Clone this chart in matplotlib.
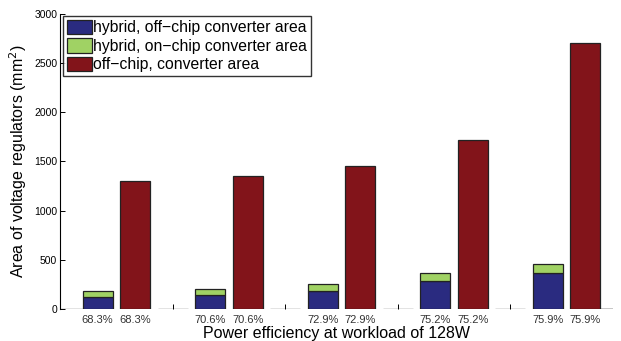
import matplotlib
matplotlib.use("Agg")
from matplotlib import pyplot as plt
import numpy as np

efficiency = ['68.3%', '70.6%', '72.9%', '75.2%', '75.9%']
hybrid_offchip = [128, 150, 190, 290, 370]
hybrid_onchip = [55, 55, 70, 80, 85]
offchip_area = [1300, 1350, 1450, 1720, 2700]

BLUE = '#2a2b80'
GREEN = '#a0d264'
RED = '#82141a'
EDGE = '#222222'
BAR_W = 0.8

plt.rcParams['font.family'] = ['Liberation Sans', 'DejaVu Sans']

fig = plt.figure(figsize=(6.21, 3.41), dpi=100)
ax = fig.add_axes([0.0966, 0.093, 0.890, 0.867])

n = len(efficiency)
hyb_x = np.arange(n) * 3 + 1
off_x = hyb_x + 1
gap_x = np.arange(n + 1) * 3

ax.bar(hyb_x, hybrid_offchip, BAR_W, color=BLUE, edgecolor=EDGE, lw=0.9,
       label='hybrid, off\u2212chip converter area')
ax.bar(hyb_x, hybrid_onchip, BAR_W, bottom=hybrid_offchip, color=GREEN,
       edgecolor=EDGE, lw=0.9, label='hybrid, on\u2212chip converter area')
ax.bar(off_x, offchip_area, BAR_W, color=RED, edgecolor=EDGE, lw=0.9,
       label='off\u2212chip, converter area')
# empty slots between groups (zero height, only the outline shows)
widths = [1.2] + [BAR_W] * (n - 1) + [1.2]
ax.bar(gap_x, np.zeros(n + 1), widths, color='none', edgecolor=EDGE, lw=0.9)

ax.set_xlim(0, 14.73)
ax.set_ylim(0, 3000)
ax.set_yticks(np.arange(0, 3001, 500))

ax.set_xticks(np.concatenate([hyb_x, off_x]))
ax.set_xticklabels(efficiency + efficiency)
ax.set_xticks(gap_x[1:-1], minor=True)
ax.tick_params(axis='x', which='major', length=0, pad=4, labelsize=8,
               colors='#333333')
ax.tick_params(axis='x', which='minor', direction='in', length=3.5, width=0.7)
ax.tick_params(axis='y', direction='in', length=3.5, width=0.7, labelsize=7.5,
               pad=2)

for s in ['top', 'right', 'bottom']:
    ax.spines[s].set_visible(False)
ax.spines['left'].set_linewidth(0.8)

ax.set_xlabel('Power efficiency at workload of 128W', fontsize=11.5, labelpad=1)
ax.set_ylabel('Area of voltage regulators (mm$^2$)', fontsize=11.5, labelpad=4)

leg = ax.legend(loc='upper left', bbox_to_anchor=(0.005, 0.993), fontsize=11.3,
                frameon=True, fancybox=False, borderpad=0.25, labelspacing=0.18,
                handlelength=1.6, handleheight=1.05, handletextpad=0.1,
                borderaxespad=0)
leg.get_frame().set_edgecolor('black')
leg.get_frame().set_linewidth(1.0)

fig.savefig('out.png', dpi=100)
